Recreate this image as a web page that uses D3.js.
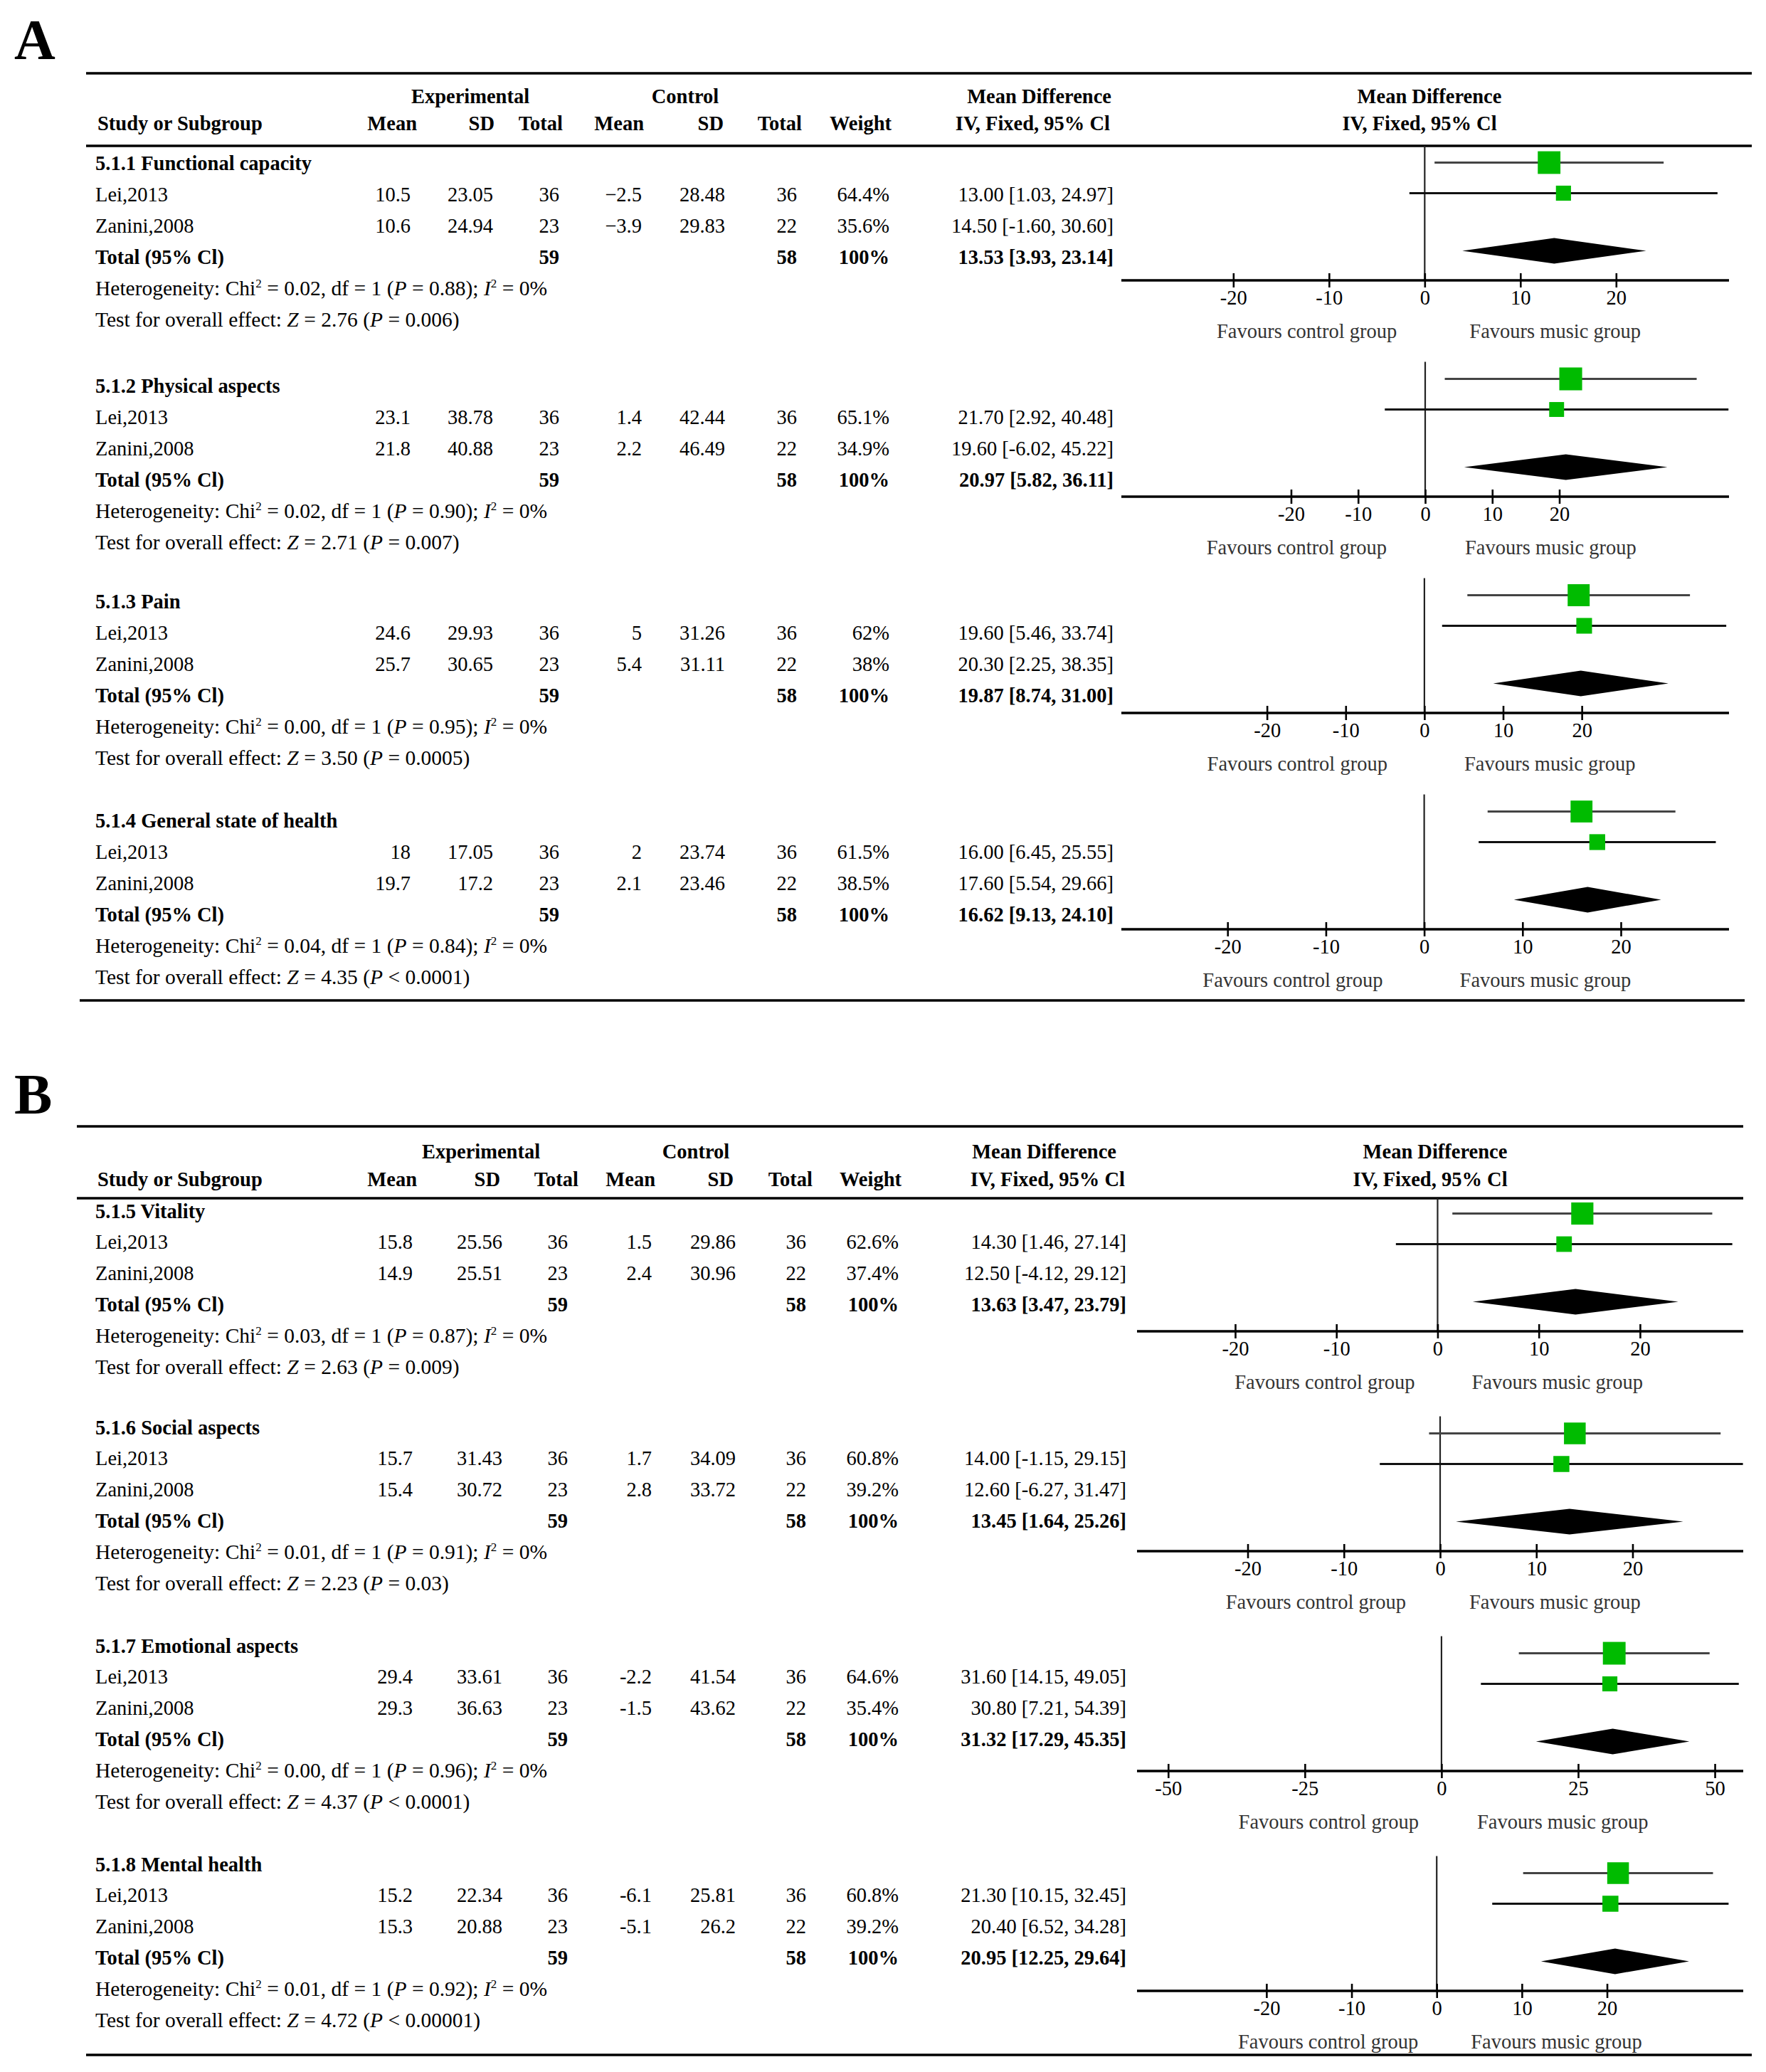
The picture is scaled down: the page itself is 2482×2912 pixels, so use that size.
<!DOCTYPE html>
<html>
<head>
<meta charset="utf-8">
<script src="https://cdn.jsdelivr.net/npm/d3@7"></script>
<style>
  body { margin: 0; background: #fff; }
  text { font-family: "Liberation Serif", "Times New Roman", serif; white-space: pre; }
</style>
</head>
<body>
<div id="chart"></div>
<script>
// ---- data ----
const subgroups = ["5.1.1 Functional capacity", "5.1.2 Physical aspects", "5.1.3 Pain", "5.1.4 General state of health",
                   "5.1.5 Vitality", "5.1.6 Social aspects", "5.1.7 Emotional aspects", "5.1.8 Mental health"];
const panelOf = ["A", "A", "A", "A", "B", "B", "B", "B"];
const studies = ["Lei,2013", "Zanini,2008"];
const expMean = [[10.5, 10.6], [23.1, 21.8], [24.6, 25.7], [18, 19.7], [15.8, 14.9], [15.7, 15.4], [29.4, 29.3], [15.2, 15.3]];
const expSD = [[23.05, 24.94], [38.78, 40.88], [29.93, 30.65], [17.05, 17.2], [25.56, 25.51], [31.43, 30.72], [33.61, 36.63], [22.34, 20.88]];
const expN = [36, 23];
const ctlMean = [[-2.5, -3.9], [1.4, 2.2], [5, 5.4], [2, 2.1], [1.5, 2.4], [1.7, 2.8], [-2.2, -1.5], [-6.1, -5.1]];
const ctlSD = [[28.48, 29.83], [42.44, 46.49], [31.26, 31.11], [23.74, 23.46], [29.86, 30.96], [34.09, 33.72], [41.54, 43.62], [25.81, 26.2]];
const ctlN = [36, 22];
const weights = [[64.4, 35.6], [65.1, 34.9], [62, 38], [61.5, 38.5], [62.6, 37.4], [60.8, 39.2], [64.6, 35.4], [60.8, 39.2]];
const md = [[13.00, 14.50], [21.70, 19.60], [19.60, 20.30], [16.00, 17.60], [14.30, 12.50], [14.00, 12.60], [31.60, 30.80], [21.30, 20.40]];
const ciLow = [[1.03, -1.60], [2.92, -6.02], [5.46, 2.25], [6.45, 5.54], [1.46, -4.12], [-1.15, -6.27], [14.15, 7.21], [10.15, 6.52]];
const ciHigh = [[24.97, 30.60], [40.48, 45.22], [33.74, 38.35], [25.55, 29.66], [27.14, 29.12], [29.15, 31.47], [49.05, 54.39], [32.45, 34.28]];
const mdTotal = [13.53, 20.97, 19.87, 16.62, 13.63, 13.45, 31.32, 20.95];
const totLow = [3.93, 5.82, 8.74, 9.13, 3.47, 1.64, 17.29, 12.25];
const totHigh = [23.14, 36.11, 31.00, 24.10, 23.79, 25.26, 45.35, 29.64];
const chi2 = ["0.02", "0.02", "0.00", "0.04", "0.03", "0.01", "0.00", "0.01"];
const hetP = ["0.88", "0.90", "0.95", "0.84", "0.87", "0.91", "0.96", "0.92"];
const iSq = [0, 0, 0, 0, 0, 0, 0, 0];
const zStat = ["2.76", "2.71", "3.50", "4.35", "2.63", "2.23", "4.37", "4.72"];
const zP = ["= 0.006", "= 0.007", "= 0.0005", "< 0.0001", "= 0.009", "= 0.03", "< 0.0001", "< 0.00001"];
const axisMin = [-31.7, -45.3, -38.5, -30.8, -29.7, -31.5, -55.7, -35.2];
const axisMax = [31.8, 45.3, 38.7, 31.0, 30.2, 31.5, 55.2, 36.0];
const axisTicks = [[-20, -10, 0, 10, 20], [-20, -10, 0, 10, 20], [-20, -10, 0, 10, 20], [-20, -10, 0, 10, 20],
                   [-20, -10, 0, 10, 20], [-20, -10, 0, 10, 20], [-50, -25, 0, 25, 50], [-20, -10, 0, 10, 20]];
const colLabels = ["Mean", "SD", "Total", "Mean", "SD", "Total", "Weight"];

// ---- layout ----
const W = 2482, H = 2912, FS = 28.5;
const panels = {
  A: { labelY: 83, topLine: 103, headLine: 205, bottomLine: 1406,
       topX: [121, 2462], bottomX: [112, 2452], head1: 135, head2: 173,
       headings: [229, 542, 845, 1153], rowStep: 44.0,
       cols: [577, 693, 786, 902, 1019, 1120, 1250, 1565],
       heads: [586, 695, 791, 905, 1017, 1127, 1253],
       expC: 661, ctlC: 963, mdHeadR1: 1562, mdHeadR2: 1560, fpC1: 2009, fpC2: 1995,
       axisRange: [1576, 2430], fFirst: 228.5, fStep: 304, minus: "\u2212" },
  B: { labelY: 1565, topLine: 1583, headLine: 1684, bottomLine: 2888,
       topX: [108, 2450], bottomX: [121, 2462], head1: 1618, head2: 1657,
       headings: [1702, 2006, 2313, 2620], rowStep: 43.85,
       cols: [580, 706, 798, 916, 1034, 1133, 1263, 1583],
       heads: [586, 703, 813, 921, 1031, 1142, 1267],
       expC: 676, ctlC: 978, mdHeadR1: 1569, mdHeadR2: 1581, fpC1: 2017, fpC2: 2010,
       axisRange: [1598, 2450], fFirst: 1705.5, fStep: 309, minus: "-" }
};
// forest offsets from the first study row
const fOff = { s2: 43, dia: 124, axis: 165.5, zero: -24, tick: 24, fav: 71 };
// favours labels offsets from the zero line, per subgroup
const favOff = [[-39, 63], [-54, 56], [-52, 56], [-58, 50], [-32, 48], [-48, 41], [-32, 50], [-26, 48]];
const base = 9.5;

const svg = d3.select("#chart").append("svg")
  .attr("width", W).attr("height", H)
  .style("background", "#fff");

function txt(g, x, yc, s, anchor, bold, size) {
  return g.append("text")
    .attr("x", x).attr("y", yc + base)
    .attr("text-anchor", anchor || "start")
    .attr("font-size", size || FS)
    .attr("font-weight", bold ? "bold" : "normal")
    .attr("fill", "#000")
    .text(s);
}
function fmt(v, minus) { return v < 0 ? minus + Math.abs(v) : String(v); }
function ci(m, lo, hi) { return `${m.toFixed(2)} [${lo.toFixed(2)}, ${hi.toFixed(2)}]`; }

const sizeScale = d3.scaleLinear().domain([0, 100]).range([8, 45]);

// ---- panel frames & headers ----
Object.entries(panels).forEach(([key, p]) => {
  const g = svg.append("g");
  g.append("text").attr("x", 20).attr("y", p.labelY)
    .attr("font-size", 80).attr("font-weight", "bold").text(key);

  [[p.topLine, p.topX], [p.headLine, p.topX], [p.bottomLine, p.bottomX]].forEach(([y, xs]) => {
    g.append("line").attr("x1", xs[0]).attr("x2", xs[1]).attr("y1", y).attr("y2", y)
      .attr("stroke", "#000").attr("stroke-width", 3.5);
  });

  txt(g, p.expC, p.head1, "Experimental", "middle", true);
  txt(g, p.ctlC, p.head1, "Control", "middle", true);
  txt(g, p.mdHeadR1, p.head1, "Mean Difference", "end", true);
  txt(g, p.fpC1, p.head1, "Mean Difference", "middle", true);
  txt(g, 137, p.head2, "Study or Subgroup", "start", true);
  colLabels.forEach((c, j) => txt(g, p.heads[j], p.head2, c, "end", true));
  txt(g, p.mdHeadR2, p.head2, "IV, Fixed, 95% Cl", "end", true);
  txt(g, p.fpC2, p.head2, "IV, Fixed, 95% Cl", "middle", true);
});

// ---- subgroups ----
subgroups.forEach((name, i) => {
  const p = panels[panelOf[i]];
  const k = panelOf[i] === "A" ? i : i - 4;
  const h = p.headings[k];
  const g = svg.append("g");
  const row = r => h + r * p.rowStep;

  // table part
  txt(g, 134, h, name, "start", true);
  studies.forEach((s, j) => {
    const y = row(j + 1);
    txt(g, 134, y, s);
    const cells = [fmt(expMean[i][j], p.minus), fmt(expSD[i][j], p.minus), String(expN[j]),
                   fmt(ctlMean[i][j], p.minus), fmt(ctlSD[i][j], p.minus), String(ctlN[j]),
                   weights[i][j] + "%", ci(md[i][j], ciLow[i][j], ciHigh[i][j])];
    cells.forEach((c, m) => txt(g, p.cols[m], y, c, "end"));
  });
  const yt = row(3);
  txt(g, 134, yt, "Total (95% Cl)", "start", true);
  txt(g, p.cols[2], yt, String(d3.sum(expN)), "end", true);
  txt(g, p.cols[5], yt, String(d3.sum(ctlN)), "end", true);
  txt(g, p.cols[6], yt, d3.sum(weights[i]).toFixed(0) + "%", "end", true);
  txt(g, p.cols[7], yt, ci(mdTotal[i], totLow[i], totHigh[i]), "end", true);

  const het = txt(g, 134, row(4), "Heterogeneity: Chi", false, false, 29.5);
  het.append("tspan").attr("font-size", 17).attr("dy", -11).text("2");
  het.append("tspan").attr("dy", 11).text(` = ${chi2[i]}, df = 1 (`);
  het.append("tspan").attr("font-style", "italic").text("P");
  het.append("tspan").text(` = ${hetP[i]}); `);
  het.append("tspan").attr("font-style", "italic").text("I");
  het.append("tspan").attr("font-size", 17).attr("dy", -11).text("2");
  het.append("tspan").attr("dy", 11).text(` = ${iSq[i]}%`);

  const test = txt(g, 134, row(5), "Test for overall effect: ", false, false, 29.5);
  test.append("tspan").attr("font-style", "italic").text("Z");
  test.append("tspan").text(` = ${zStat[i]} (`);
  test.append("tspan").attr("font-style", "italic").text("P");
  test.append("tspan").text(` ${zP[i]})`);

  // forest plot part
  const x = d3.scaleLinear().domain([axisMin[i], axisMax[i]]).range(p.axisRange);
  const f0 = p.fFirst + k * p.fStep;
  const yAxis = f0 + fOff.axis;
  const x0 = x(0);

  g.append("line").attr("x1", x0).attr("x2", x0)
    .attr("y1", Math.max(p.headLine, f0 + fOff.zero)).attr("y2", yAxis)
    .attr("stroke", "#222").attr("stroke-width", 2.2);

  const studyY = [f0, f0 + fOff.s2];
  studies.forEach((s, j) => {
    g.append("line")
      .attr("x1", x(ciLow[i][j])).attr("x2", x(ciHigh[i][j]))
      .attr("y1", studyY[j]).attr("y2", studyY[j])
      .attr("stroke", j === 0 ? "#444" : "#111").attr("stroke-width", 3.2);
    const sz = sizeScale(weights[i][j]);
    g.append("rect")
      .attr("x", x(md[i][j]) - sz / 2).attr("y", studyY[j] - sz / 2)
      .attr("width", sz).attr("height", sz)
      .attr("fill", "#00bb00");
  });

  const yd = f0 + fOff.dia, dh = 18;
  g.append("path")
    .attr("d", `M${x(totLow[i])},${yd} L${x(mdTotal[i])},${yd - dh} L${x(totHigh[i])},${yd} L${x(mdTotal[i])},${yd + dh} Z`)
    .attr("fill", "#000");

  const ax = g.append("g").attr("transform", `translate(0,${yAxis})`)
    .call(d3.axisBottom(x).tickValues(axisTicks[i]).tickFormat(d => String(d))
      .tickSizeOuter(0).tickSize(10).tickPadding(fOff.tick - 20));
  ax.select(".domain").attr("stroke", "#000").attr("stroke-width", 3.5)
    .attr("d", `M${p.axisRange[0]},0H${p.axisRange[1]}`);
  ax.selectAll(".tick line").attr("y1", -10).attr("y2", 10)
    .attr("stroke", "#000").attr("stroke-width", 2.6);
  ax.selectAll(".tick text")
    .attr("font-size", FS).attr("fill", "#000")
    .attr("font-family", "'Liberation Serif', 'Times New Roman', serif");

  const yf = yAxis + fOff.fav + base;
  g.append("text").attr("x", x0 + favOff[i][0]).attr("y", yf).attr("text-anchor", "end")
    .attr("font-size", FS).attr("fill", "#333").text("Favours control group");
  g.append("text").attr("x", x0 + favOff[i][1]).attr("y", yf).attr("text-anchor", "start")
    .attr("font-size", FS).attr("fill", "#333").text("Favours music group");
});
</script>
</body>
</html>
